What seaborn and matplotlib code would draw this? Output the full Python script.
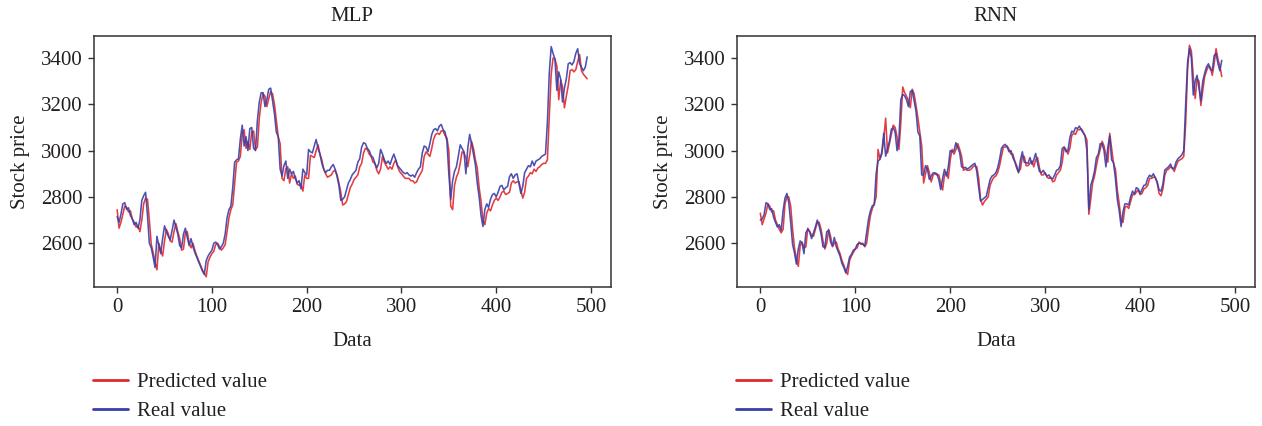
import numpy as np
import pandas as pd
import matplotlib
matplotlib.use("Agg")
import matplotlib.pyplot as plt
import seaborn as sns

# Closing prices of the test window (every second trading day) and model outputs
mlp_real = [
    2715, 2690, 2725, 2770, 2775, 2746, 2753, 2720, 2705, 2680,
    2690, 2665, 2700, 2785, 2805, 2820, 2720, 2600, 2580, 2540,
    2495, 2630, 2590, 2555, 2620, 2675, 2650, 2630, 2615, 2655,
    2700, 2670, 2640, 2590, 2580, 2640, 2665, 2625, 2590, 2620,
    2585, 2560, 2540, 2520, 2500, 2480, 2465, 2525, 2545, 2558,
    2570, 2600, 2605, 2595, 2575, 2585, 2600, 2640, 2710, 2745,
    2760, 2840, 2950, 2960, 2965, 3050, 3110, 3020, 3060, 3000,
    3095, 3100, 3010, 3000, 3130, 3210, 3250, 3250, 3190, 3220,
    3265, 3270, 3215, 3160, 3080, 3060, 2920, 2890, 2935, 2955,
    2880, 2920, 2900, 2910, 2880, 2860, 2870, 2835, 2920, 2905,
    2895, 3005, 2995, 2990, 3020, 3048, 3010, 2985, 2945, 2920,
    2905, 2915, 2915, 2930, 2940, 2920, 2890, 2850, 2785, 2790,
    2800, 2830, 2860, 2875, 2895, 2905, 2915, 2950, 2965, 3015,
    3034, 3030, 3010, 3000, 2978, 2970, 2945, 2925, 2945, 3005,
    2985, 2960, 2945, 2955, 2940, 2965, 2985, 2960, 2935, 2925,
    2915, 2905, 2900, 2905, 2895, 2890, 2895, 2885, 2905, 2920,
    2930, 2990, 3020, 3015, 2995, 3030, 3070, 3090, 3095, 3085,
    3106, 3113, 3090, 3080, 3040, 2900, 2790, 2870, 2910, 2930,
    2975, 3025, 3010, 2995, 2900, 3010, 3070, 3030, 2985, 2940,
    2860, 2800, 2720, 2672, 2745, 2770, 2755, 2790, 2810, 2815,
    2800, 2820, 2845, 2850, 2830, 2840, 2845, 2887, 2900, 2880,
    2895, 2900, 2860, 2815, 2845, 2905, 2920, 2935, 2930, 2955,
    2935, 2955, 2960, 2965, 2975, 2980, 2985, 3120, 3335, 3449,
    3420, 3395, 3260, 3340, 3310, 3210, 3270, 3310, 3375, 3380,
    3370, 3385, 3420, 3440, 3375, 3360, 3345, 3360, 3405,
]
mlp_pred = [
    2745, 2665, 2690, 2725, 2760, 2755, 2735, 2740, 2705, 2690,
    2670, 2675, 2650, 2700, 2770, 2795, 2790, 2700, 2595, 2560,
    2520, 2485, 2600, 2570, 2545, 2610, 2660, 2640, 2610, 2605,
    2650, 2685, 2650, 2620, 2570, 2575, 2645, 2650, 2600, 2580,
    2600, 2570, 2545, 2525, 2505, 2485, 2470, 2455, 2520, 2540,
    2555, 2565, 2595, 2600, 2585, 2570, 2580, 2595, 2650, 2710,
    2745, 2765, 2860, 2950, 2955, 2975, 3070, 3090, 3010, 3040,
    3005, 3080, 3085, 3005, 3015, 3140, 3210, 3245, 3235, 3190,
    3225, 3255, 3245, 3200, 3130, 3060, 3030, 2880, 2870, 2920,
    2930, 2860, 2900, 2880, 2890, 2855, 2850, 2855, 2825, 2895,
    2880, 2880, 2980, 2975, 2970, 3000, 3025, 2985, 2960, 2920,
    2900, 2885, 2890, 2895, 2910, 2915, 2895, 2860, 2820, 2765,
    2770, 2780, 2810, 2840, 2855, 2875, 2885, 2895, 2930, 2945,
    2990, 3010, 3005, 2985, 2975, 2950, 2945, 2915, 2900, 2920,
    2975, 2950, 2935, 2920, 2930, 2920, 2945, 2960, 2930, 2910,
    2900, 2890, 2880, 2880, 2880, 2870, 2870, 2860, 2865, 2885,
    2900, 2915, 2975, 2995, 2985, 2975, 3010, 3050, 3070, 3075,
    3070, 3085, 3085, 3065, 3055, 3000, 2760, 2745, 2850, 2885,
    2905, 2945, 2995, 2990, 2970, 2930, 2980, 3040, 3010, 2960,
    2925, 2840, 2780, 2700, 2680, 2730, 2750, 2740, 2765, 2785,
    2795, 2785, 2800, 2820, 2825, 2810, 2815, 2820, 2860, 2870,
    2860, 2865, 2865, 2830, 2795, 2820, 2880, 2890, 2905, 2900,
    2920, 2910, 2925, 2930, 2940, 2945, 2945, 2960, 3150, 3330,
    3400, 3395, 3365, 3220, 3305, 3275, 3185, 3235, 3280, 3345,
    3350, 3340, 3350, 3385, 3415, 3345, 3330, 3320, 3310,
]
rnn_real = [
    2700, 2705, 2724, 2775, 2770, 2745, 2749, 2712, 2690, 2670,
    2680, 2655, 2740, 2795, 2815, 2775, 2690, 2595, 2558, 2510,
    2575, 2610, 2600, 2555, 2645, 2660, 2650, 2620, 2645, 2670,
    2700, 2674, 2640, 2585, 2582, 2650, 2655, 2605, 2588, 2625,
    2585, 2565, 2544, 2512, 2495, 2472, 2500, 2540, 2552, 2570,
    2575, 2595, 2600, 2600, 2595, 2588, 2645, 2705, 2740, 2762,
    2766, 2900, 2955, 2962, 2995, 3075, 2976, 3010, 3040, 3092,
    3099, 3080, 3000, 3050, 3220, 3243, 3236, 3220, 3190, 3255,
    3260, 3215, 3170, 3080, 3063, 2895, 2895, 2935, 2920, 2876,
    2890, 2904, 2904, 2900, 2875, 2832, 2880, 2919, 2890, 2930,
    3000, 2995, 3000, 3034, 3012, 2991, 2930, 2925, 2928, 2920,
    2926, 2933, 2940, 2945, 2910, 2840, 2782, 2789, 2796, 2803,
    2840, 2875, 2890, 2895, 2904, 2926, 2962, 3010, 3022, 3027,
    3015, 2995, 3000, 2970, 2952, 2925, 2904, 2960, 2995, 2950,
    2948, 2945, 2970, 2942, 2960, 2988, 2945, 2910, 2904, 2915,
    2900, 2890, 2895, 2880, 2878, 2895, 2915, 2919, 2935, 3010,
    3015, 2995, 3000, 3055, 3084, 3080, 3099, 3095, 3106, 3090,
    3078, 3063, 3000, 2746, 2850, 2876, 2912, 2970, 2984, 3030,
    3030, 3000, 2930, 3015, 3063, 2960, 2948, 2880, 2790, 2740,
    2672, 2735, 2770, 2770, 2765, 2800, 2825, 2812, 2840, 2835,
    2815, 2832, 2850, 2852, 2880, 2894, 2887, 2900, 2882, 2865,
    2830, 2825, 2855, 2916, 2923, 2930, 2942, 2922, 2925, 2952,
    2966, 2973, 2982, 3000, 3200, 3380, 3442, 3400, 3240, 3300,
    3325, 3270, 3215, 3300, 3334, 3362, 3375, 3350, 3345, 3410,
    3420, 3375, 3345, 3390,
]
rnn_pred = [
    2730, 2680, 2705, 2730, 2770, 2760, 2735, 2740, 2700, 2680,
    2660, 2645, 2660, 2770, 2800, 2800, 2760, 2660, 2580, 2535,
    2500, 2590, 2605, 2580, 2585, 2665, 2650, 2635, 2630, 2660,
    2690, 2690, 2660, 2610, 2575, 2600, 2660, 2630, 2585, 2600,
    2605, 2575, 2555, 2525, 2505, 2480, 2465, 2525, 2545, 2560,
    2575, 2580, 2605, 2595, 2600, 2585, 2600, 2665, 2720, 2750,
    2770, 2800, 3005, 2965, 2985, 3050, 3140, 2990, 3030, 3070,
    3110, 3100, 3060, 3005, 3120, 3275, 3250, 3235, 3215, 3185,
    3265, 3245, 3195, 3140, 3080, 3020, 2860, 2900, 2935, 2905,
    2865, 2895, 2900, 2895, 2895, 2860, 2830, 2895, 2905, 2880,
    2960, 3005, 2985, 3005, 3030, 3005, 2975, 2915, 2920, 2915,
    2915, 2920, 2930, 2935, 2930, 2880, 2790, 2765, 2780, 2790,
    2800, 2850, 2870, 2885, 2890, 2905, 2935, 2975, 3015, 3015,
    3020, 3005, 2985, 2985, 2955, 2935, 2910, 2920, 2975, 2975,
    2935, 2935, 2945, 2955, 2930, 2960, 2970, 2925, 2895, 2895,
    2905, 2885, 2880, 2885, 2865, 2870, 2895, 2905, 2915, 2950,
    3015, 3005, 2985, 3010, 3065, 3075, 3070, 3090, 3090, 3095,
    3080, 3065, 3045, 2725, 2790, 2860, 2890, 2935, 2975, 3005,
    3040, 3020, 2980, 2950, 3075, 3010, 2945, 2920, 2830, 2770,
    2700, 2690, 2755, 2760, 2750, 2780, 2810, 2810, 2820, 2830,
    2810, 2815, 2835, 2840, 2850, 2880, 2880, 2885, 2885, 2860,
    2815, 2805, 2835, 2895, 2915, 2920, 2930, 2925, 2910, 2935,
    2955, 2960, 2965, 2975, 3120, 3350, 3455, 3430, 3320, 3225,
    3310, 3300, 3195, 3260, 3320, 3345, 3365, 3360, 3325, 3375,
    3440, 3395, 3365, 3320,
]

series_names = ["Predicted value", "Real value"]
series_colors = {"Predicted value": "#e0282e", "Real value": "#3a3ea6"}
panel_titles = ["MLP", "RNN"]
x_ticks = [0, 100, 200, 300, 400, 500]
y_ticks = [2600, 2800, 3000, 3200, 3400]
DAY_STEP = 2
FS = 15


def long_frame(real, pred):
    days = np.arange(len(real)) * DAY_STEP
    return pd.concat([
        pd.DataFrame({"Data": days, "Stock price": pred, "series": series_names[0]}),
        pd.DataFrame({"Data": days, "Stock price": real, "series": series_names[1]}),
    ], ignore_index=True)


sns.set_theme(style="ticks")
ink = "#231f20"
plt.rcParams.update({
    "font.family": ["Liberation Serif", "DejaVu Serif"],
    "font.size": FS,
    "text.color": ink,
    "axes.labelcolor": ink,
    "axes.edgecolor": "#333333",
    "axes.linewidth": 1.1,
    "xtick.color": "#333333",
    "ytick.color": "#333333",
    "xtick.labelcolor": ink,
    "ytick.labelcolor": ink,
    "xtick.major.size": 4.5,
    "ytick.major.size": 4.5,
    "xtick.major.width": 1.0,
    "ytick.major.width": 1.0,
    "xtick.labelsize": FS,
    "ytick.labelsize": FS,
})

fig = plt.figure(figsize=(12.62, 4.26), dpi=100)
axes = [
    fig.add_axes([0.0742, 0.3263, 0.4097, 0.5892]),
    fig.add_axes([0.5838, 0.3263, 0.4105, 0.5892]),
]

frames = [long_frame(mlp_real, mlp_pred), long_frame(rnn_real, rnn_pred)]

for ax, df, title in zip(axes, frames, panel_titles):
    sns.lineplot(
        data=df, x="Data", y="Stock price", hue="series",
        hue_order=series_names, palette=series_colors,
        estimator=None, linewidth=1.15, alpha=0.9, ax=ax,
    )
    ax.set_xlim(-24.8, 520.8)
    ax.set_ylim(2411, 3495)
    ax.set_xticks(x_ticks)
    ax.set_yticks(y_ticks)
    ax.set_title(title, fontsize=FS, pad=10.5)
    ax.set_xlabel("Data", fontsize=FS, labelpad=11)
    ax.set_ylabel("Stock price", fontsize=FS, labelpad=8)
    for side in ("top", "right", "bottom", "left"):
        ax.spines[side].set_visible(True)
    leg = ax.legend(
        loc="upper left", bbox_to_anchor=(-0.002, -0.34),
        frameon=False, borderaxespad=0, borderpad=0,
        handlelength=1.7, handletextpad=0.42, labelspacing=0.46,
        fontsize=FS,
    )
    for line in leg.get_lines():
        line.set_linewidth(2.0)
        line.set_alpha(1.0)

fig.savefig("out.png", dpi=100)
